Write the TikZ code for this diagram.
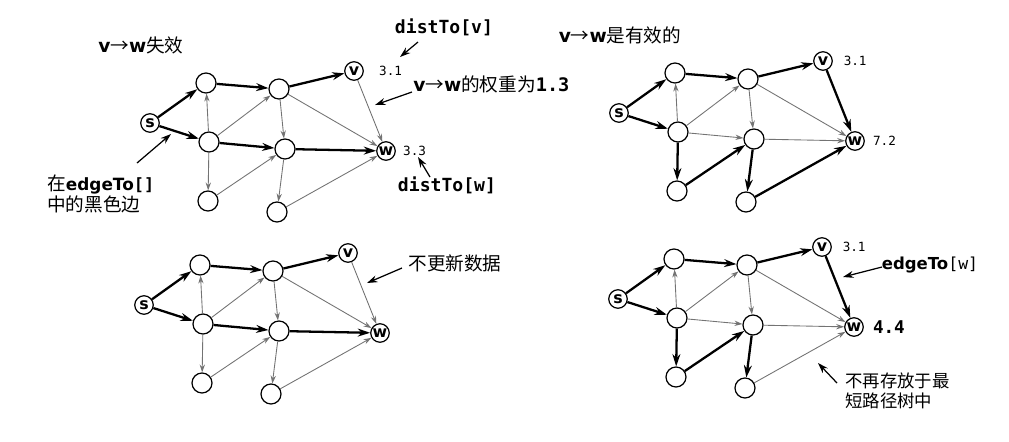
\documentclass[tikz,border=0pt]{standalone}
\usepackage{fontspec}
\usetikzlibrary{arrows.meta}
\newfontfamily\cjk{Noto Sans CJK SC}
\newfontfamily\lsans{DejaVu Sans}
\newfontfamily\lmono{DejaVu Sans Mono}

% the same graph in every panel, s at the scope origin
\newcommand\placegraph[1]{%
  \node[vtx] (#1s) at (0,0) {s};
  \node[dot] (#1a) at (56,-40) {};
  \node[dot] (#1b) at (59,19) {};
  \node[dot] (#1c) at (58,78) {};
  \node[dot] (#1d) at (129,-34) {};
  \node[dot] (#1e) at (135,26) {};
  \node[dot] (#1f) at (127,89) {};
  \node[vtx] (#1v) at (204,-52) {v};
  \node[vtx] (#1w) at (236,28) {w};
}
\newcommand\vw{{\lsans\bfseries v}{\cjk →}{\lsans\bfseries w}}

\begin{document}
\begin{tikzpicture}[x=0.02cm,y=-0.02cm,
    dot/.style={circle,draw,line width=0.7pt,fill=white,minimum size=0.4cm,inner sep=0pt},
    vtx/.style={dot,minimum size=0.37cm,font=\lsans\bfseries\fontsize{9}{9}\selectfont},
    tree/.style={line width=1.3pt,-{Stealth[length=7pt,width=4.5pt]}},
    other/.style={black!55,line width=0.5pt,-{Stealth[length=4.5pt,width=3pt]}},
    note/.style={line width=0.7pt,-{Stealth[length=6pt,width=4pt]}},
    val/.style={inner sep=0pt,anchor=west,font=\lmono\fontsize{7.2}{7.5}\selectfont},
    code/.style={inner sep=0pt,font=\lmono\bfseries\fontsize{10.3}{11}\selectfont},
    zh/.style={inner sep=0pt,font=\cjk\fontsize{10.6}{10.6}\selectfont}]
  \useasboundingbox (0,0) rectangle (1009,441);

  % top left: v->w is not eligible
  \begin{scope}[shift={(150,123)}]
    \placegraph{p1}
  \end{scope}
  \foreach \x/\y in {s/a,s/b,a/d,b/e,d/v,e/w}
    \draw[tree] (p1\x) -- (p1\y);
  \foreach \x/\y in {b/a,b/c,b/d,d/e,c/e,e/f,d/w,v/w,f/w}
    \draw[other] (p1\x) -- (p1\y);
  \node[val] (p1vd) at ([xshift=8.5pt]p1v.east) {3.1};
  \node[val] (p1wd) at ([xshift=4pt]p1w.east) {3.3};
  \node[zh] (p1title) at (141,45) {\vw 失效};
  \node[code] (p1dv) at (444,27) {distTo[v]};
  \node[code] (p1dw) at (447,185) {distTo[w]};
  \node[zh,anchor=west] (p1wt) at (413,84) {\vw 的权重为{\lmono\bfseries 1.3}};
  \node[zh,anchor=north west,align=left] (p1tree) at (47,174)
    {在{\lsans\bfseries\fontsize{9.6}{10}\selectfont edgeTo}{\lmono\bfseries\fontsize{9.6}{10}\selectfont []}\\中的黑色边};
  \coordinate (t1) at (418,42); \coordinate (h1) at (400,57);
  \coordinate (t2) at (412,92); \coordinate (h2) at (375,105);
  \coordinate (t3) at (430,177); \coordinate (h3) at (418,157);
  \coordinate (t4) at (137,163); \coordinate (h4) at (171,134);
  \draw[note] (t1) -- (h1);
  \draw[note] (t2) -- (h2);
  \draw[note] (t3) -- (h3);
  \draw[note] (t4) -- (h4);

  % top right: v->w is eligible
  \begin{scope}[shift={(619,113)}]
    \placegraph{p2}
  \end{scope}
  \foreach \x/\y in {s/a,s/b,a/d,b/c,c/e,e/f,d/v,v/w,f/w}
    \draw[tree] (p2\x) -- (p2\y);
  \foreach \x/\y in {b/a,b/d,b/e,d/e,d/w,e/w}
    \draw[other] (p2\x) -- (p2\y);
  \node[val] (p2vd) at ([xshift=6pt]p2v.east) {3.1};
  \node[val] (p2wd) at ([xshift=4.5pt]p2w.east) {7.2};
  \node[zh] (p2title) at (620,35) {\vw 是有效的};

  % bottom left: nothing changes
  \begin{scope}[shift={(144,305)}]
    \placegraph{p3}
  \end{scope}
  \foreach \x/\y in {s/a,s/b,a/d,b/e,d/v,e/w}
    \draw[tree] (p3\x) -- (p3\y);
  \foreach \x/\y in {b/a,b/c,b/d,d/e,c/e,e/f,d/w,v/w,f/w}
    \draw[other] (p3\x) -- (p3\y);
  \node[zh] (p3note) at (455,263) {不更新数据};
  \coordinate (t5) at (402,268); \coordinate (h5) at (367,283);
  \draw[note] (t5) -- (h5);

  % bottom right: w now reached through v
  \begin{scope}[shift={(618,299)}]
    \placegraph{p4}
  \end{scope}
  \foreach \x/\y in {s/a,s/b,a/d,b/c,c/e,e/f,d/v,v/w}
    \draw[tree] (p4\x) -- (p4\y);
  \foreach \x/\y in {b/a,b/d,b/e,d/e,d/w,e/w,f/w}
    \draw[other] (p4\x) -- (p4\y);
  \node[val] (p4vd) at ([xshift=6pt]p4v.east) {3.1};
  \node[val,font=\lmono\bfseries\fontsize{10}{10}\selectfont] (p4wd) at ([xshift=5pt]p4w.east) {4.4};
  \node[zh] (p4edge) at (930,265) {{\lsans\bfseries\fontsize{9.4}{10}\selectfont edgeTo}{\lmono\fontsize{9.4}{10}\selectfont [w]}};
  \node[zh,anchor=north west,align=left,font=\cjk\fontsize{9.9}{11.9}\selectfont] (p4out) at (845,372)
    {不再存放于最\\短路径树中};
  \coordinate (t6) at (882,267); \coordinate (h6) at (843,277);
  \coordinate (t7) at (837,383); \coordinate (h7) at (818,363);
  \draw[note] (t6) -- (h6);
  \draw[note] (t7) -- (h7);
\end{tikzpicture}
\end{document}
